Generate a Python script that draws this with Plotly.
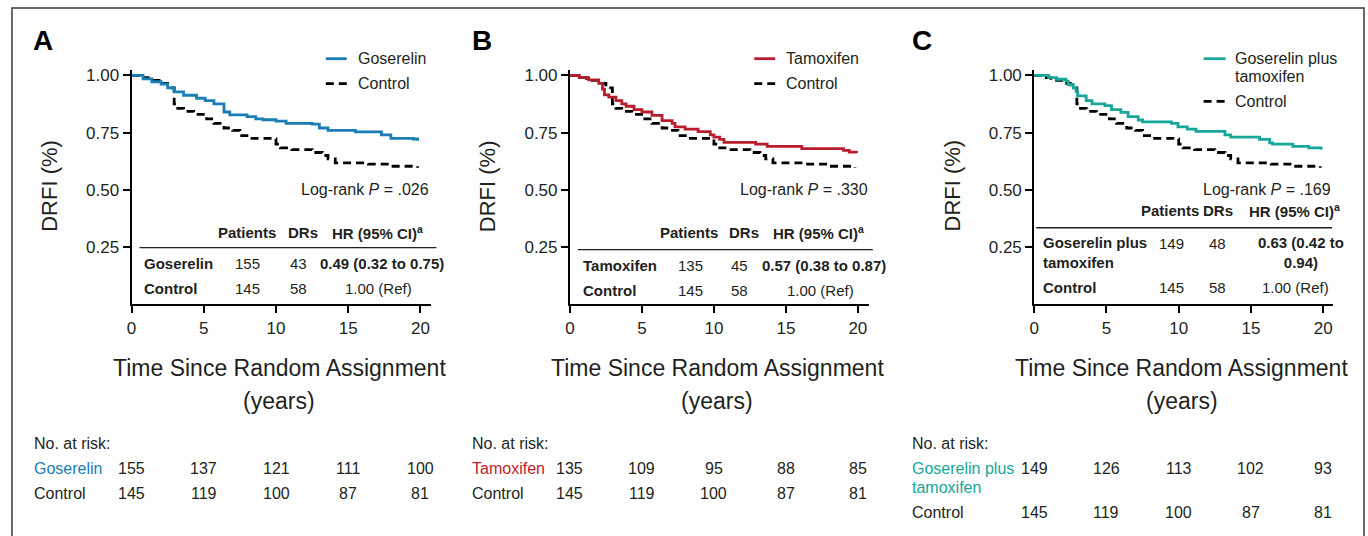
import plotly.graph_objects as go

W, H = 1368, 536
FONT = "Liberation Sans, Arial, sans-serif"

BLUE = "#1a7db6"
RED = "#b81d2d"
TEAL = "#17a69a"

# ---------------- data ----------------
ctrl_t = [0, 0.7, 1.15, 2.05, 2.5, 2.95, 3.2, 3.6, 4.3, 5.2, 5.7, 6.4, 7.0, 7.5, 8.2, 9.8, 10.0, 10.3, 11.1, 12.5, 13.2, 13.6, 14.1, 16.4, 17.95, 19.8]
ctrl_s = [1.0, 0.99, 0.978, 0.965, 0.945, 0.875, 0.856, 0.843, 0.83, 0.81, 0.79, 0.77, 0.76, 0.737, 0.725, 0.722, 0.70, 0.683, 0.676, 0.663, 0.65, 0.635, 0.618, 0.612, 0.603, 0.596]

gos_t = [0, 0.8, 1.4, 2.05, 2.5, 2.95, 3.6, 4.5, 5.1, 5.7, 6.4, 6.8, 8.0, 8.6, 9.1, 10.0, 10.7, 12.5, 13.0, 13.6, 15.5, 17.3, 17.95, 19.5, 19.8]
gos_s = [1.0, 0.985, 0.972, 0.962, 0.945, 0.928, 0.913, 0.90, 0.89, 0.875, 0.84, 0.827, 0.82, 0.81, 0.806, 0.80, 0.79, 0.787, 0.77, 0.76, 0.753, 0.74, 0.725, 0.722, 0.714]

tam_t = [0, 0.65, 1.3, 2.0, 2.26, 2.4, 2.7, 3.2, 3.6, 3.9, 4.45, 5.0, 5.7, 6.4, 7.1, 7.3, 8.0, 8.9, 9.75, 10.0, 10.4, 10.7, 12.9, 13.7, 16.1, 19.0, 19.4, 19.9]
tam_s = [1.0, 0.99, 0.98, 0.965, 0.94, 0.915, 0.905, 0.89, 0.875, 0.865, 0.85, 0.84, 0.825, 0.802, 0.79, 0.775, 0.765, 0.754, 0.74, 0.73, 0.72, 0.707, 0.70, 0.69, 0.68, 0.672, 0.665, 0.66]

gt_t = [0, 1.0, 1.55, 2.2, 2.35, 2.7, 2.9, 3.0, 3.6, 4.0, 4.9, 5.35, 6.0, 6.5, 7.2, 7.5, 9.5, 9.95, 10.6, 11.2, 13.2, 13.6, 15.6, 16.3, 16.5, 17.9, 19.0, 19.85]
gt_s = [1.0, 0.99, 0.983, 0.975, 0.96, 0.945, 0.93, 0.91, 0.89, 0.875, 0.868, 0.85, 0.838, 0.82, 0.805, 0.797, 0.79, 0.775, 0.765, 0.755, 0.74, 0.73, 0.72, 0.705, 0.70, 0.69, 0.683, 0.675]

x_ticks = [0, 5, 10, 15, 20]
y_ticks = [0.25, 0.50, 0.75, 1.00]
y_ticktext = ["0.25", "0.50", "0.75", "1.00"]

risk_gos = [155, 137, 121, 111, 100]
risk_tam = [135, 109, 95, 88, 85]
risk_gt = [149, 126, 113, 102, 93]
risk_ctrl = [145, 119, 100, 87, 81]

panel_letters = ["A", "B", "C"]
arm_names = ["Goserelin", "Tamoxifen", "Goserelin plus<br>tamoxifen"]
arm_colors = [BLUE, RED, TEAL]
logrank_p = [".026", ".330", ".169"]
patients = [155, 135, 149]
drs = [43, 45, 48]
hr_txt = ["0.49 (0.32 to 0.75)", "0.57 (0.38 to 0.87)", "0.63 (0.42 to<br>0.94)"]
ctrl_patients, ctrl_drs, ctrl_hr = 145, 58, "1.00 (Ref)"

# ---------------- layout helpers ----------------
def px(x):
    return x / W

def py(y):
    return 1 - y / H

DASH = "8px,5px"

# per-panel geometry (pixel positions)
axis_left = [127, 567, 1033]
axis_right = [428, 867, 1333]
px_per_year = [14.5, 14.45, 14.5]
y_top, y_bot = 67, 303

fig = go.Figure()

series = [(gos_t, gos_s), (tam_t, tam_s), (gt_t, gt_s)]
for i in range(3):
    xa = "x" if i == 0 else f"x{i+1}"
    ya = "y" if i == 0 else f"y{i+1}"
    t, s = series[i]
    fig.add_trace(go.Scatter(x=ctrl_t, y=ctrl_s, mode="lines", line_shape="hv",
                             line=dict(color="black", width=2.8, dash=DASH),
                             xaxis=xa, yaxis=ya, showlegend=False, hoverinfo="skip"))
    fig.add_trace(go.Scatter(x=t, y=s, mode="lines", line_shape="hv",
                             line=dict(color=arm_colors[i], width=2.8),
                             xaxis=xa, yaxis=ya, showlegend=False, hoverinfo="skip"))

layout = dict(
    width=W, height=H, margin=dict(l=0, r=0, t=0, b=0),
    paper_bgcolor="white", plot_bgcolor="white",
    font=dict(family=FONT, color="#231f20"),
    showlegend=False,
)
for i in range(3):
    xk = "xaxis" if i == 0 else f"xaxis{i+1}"
    yk = "yaxis" if i == 0 else f"yaxis{i+1}"
    xr = (axis_right[i] - axis_left[i]) / px_per_year[i]
    layout[xk] = dict(
        domain=[px(axis_left[i]), px(axis_right[i])], range=[0, xr],
        anchor="y" if i == 0 else f"y{i+1}",
        tickvals=x_ticks, ticks="outside", ticklen=7, tickwidth=1.5, tickcolor="black",
        showline=True, linecolor="black", linewidth=2, showgrid=False, zeroline=False,
        tickfont=dict(size=17, family=FONT, color="#231f20"), fixedrange=True,
    )
    layout[yk] = dict(
        domain=[py(y_bot), py(y_top)], range=[0, 1.025],
        anchor="x" if i == 0 else f"x{i+1}",
        tickvals=y_ticks, ticktext=y_ticktext, ticks="outside", ticklen=7, tickwidth=1.5,
        tickcolor="black", showline=True, linecolor="black", linewidth=2, showgrid=False,
        zeroline=False, tickfont=dict(size=17, family=FONT, color="#231f20"), fixedrange=True,
    )
fig.update_layout(**layout)

ann = []
shapes = []

def text(x, y, s, size=16, anchor="left", bold=False, color="#231f20", xref="paper", align="left", **kw):
    if bold:
        s = "<b>" + s.replace("<br>", "</b><br><b>") + "</b>"
    ann.append(dict(x=px(x) if xref == "paper" else x, y=py(y), xref=xref, yref="paper",
                    text=s, showarrow=False, xanchor=anchor, yanchor="middle", align=align,
                    font=dict(size=size, family=FONT, color=color), **kw))

# frame
shapes.append(dict(type="rect", xref="paper", yref="paper", x0=px(7), x1=px(1364), y0=-0.05, y1=py(5),
                   line=dict(color="#3a3a3a", width=1.5), fillcolor="rgba(0,0,0,0)"))

letter_x = [38, 479, 920]
legend_line_x = [(322, 343), (752, 773), (1203, 1225)]
legend_text_x = [352, 782, 1233]
ctrl_leg_y = [81, 81, 99]
logrank_right = [428, 868, 1333]

# tables (pixel positions)
tbl = [
    dict(hdr_y=231, line=(135, 433, 246), pat_x=212, drs_x=282, hr_x=326,
         r1_y=262, r2_y=287, name_x=138, n_x=229, d_x=305, hr1_x=314, hr2_x=339),
    dict(hdr_y=231, line=(575, 871, 248), pat_x=655, drs_x=725, hr_x=769,
         r1_y=264, r2_y=289, name_x=578, n_x=673, d_x=748, hr1_x=758, hr2_x=783),
    dict(hdr_y=209, line=(1035, 1332, 226), pat_x=1138, drs_x=1200, hr_x=1247,
         r1_y=251, r2_y=286, name_x=1040, n_x=1156, d_x=1227, hr1_x=1301, hr2_x=1295),
]

risk_left = [27, 467, 908]
risk_arm = [risk_gos, risk_tam, risk_gt]

for i in range(3):
    xa = "x" if i == 0 else f"x{i+1}"
    # panel letter
    text(letter_x[i], 38, panel_letters[i], size=28, anchor="center", bold=True, color="black")
    # y-axis title
    text(axis_left[i] - 82, 184, "DRFI (%)", size=22, anchor="center", textangle=-90)
    # x-axis title
    cx = (axis_left[i] + axis_right[i]) / 2 - 2
    text(cx, 367, "Time Since Random Assignment", size=23, anchor="center")
    text(cx, 400, "(years)", size=23, anchor="center")
    # legend
    x0, x1 = legend_line_x[i]
    shapes.append(dict(type="line", xref="paper", yref="paper", x0=px(x0), x1=px(x1), y0=py(56), y1=py(56),
                       line=dict(color=arm_colors[i], width=2.8)))
    shapes.append(dict(type="line", xref="paper", yref="paper", x0=px(x0), x1=px(x1),
                       y0=py(ctrl_leg_y[i]), y1=py(ctrl_leg_y[i]),
                       line=dict(color="black", width=2.8, dash=DASH)))
    if i == 2:
        text(legend_text_x[i], 56, "Goserelin plus", size=16)
        text(legend_text_x[i], 74, "tamoxifen", size=16)
    else:
        text(legend_text_x[i], 56, arm_names[i], size=16)
    text(legend_text_x[i], ctrl_leg_y[i], "Control", size=16)
    # log-rank
    text(logrank_right[i], 188, "Log-rank <i>P</i> = " + logrank_p[i], size=16, anchor="right")
    # HR table
    tb = tbl[i]
    text(tb["pat_x"], tb["hdr_y"], "Patients", size=15, bold=True)
    text(tb["drs_x"], tb["hdr_y"], "DRs", size=15, bold=True)
    text(tb["hr_x"], tb["hdr_y"], "<b>HR (95% CI)</b><sup><b>a</b></sup>", size=15)
    lx0, lx1, ly = tb["line"]
    shapes.append(dict(type="line", xref="paper", yref="paper", x0=px(lx0), x1=px(lx1), y0=py(ly), y1=py(ly),
                       line=dict(color="#231f20", width=1.3)))
    r1 = tb["r1_y"]
    if i == 2:
        text(tb["name_x"], r1, arm_names[i], size=15, bold=True)
        text(tb["n_x"], 242, str(patients[i]), size=15)
        text(tb["d_x"], 242, str(drs[i]), size=15, anchor="right")
        text(tb["hr1_x"], r1, hr_txt[i], size=15, bold=True, anchor="center", align="center")
        text(tb["hr2_x"], tb["r2_y"], ctrl_hr, size=15, anchor="center")
    else:
        text(tb["name_x"], r1, arm_names[i], size=15, bold=True)
        text(tb["n_x"], r1, str(patients[i]), size=15)
        text(tb["d_x"], r1, str(drs[i]), size=15, anchor="right")
        text(tb["hr1_x"], r1, hr_txt[i], size=15, bold=True)
        text(tb["hr2_x"], tb["r2_y"], ctrl_hr, size=15)
    text(tb["name_x"], tb["r2_y"], "Control", size=15, bold=True)
    text(tb["n_x"], tb["r2_y"], str(ctrl_patients), size=15)
    text(tb["d_x"], tb["r2_y"], str(ctrl_drs), size=15, anchor="right")

    # number at risk
    text(risk_left[i], 443, "No. at risk:", size=16)
    ctrl_row_y = 512 if i == 2 else 493
    if i == 2:
        text(risk_left[i], 468, "Goserelin plus", size=16, color=arm_colors[i])
        text(risk_left[i], 487, "tamoxifen", size=16, color=arm_colors[i])
    else:
        text(risk_left[i], 468, arm_names[i], size=16, color=arm_colors[i])
    text(risk_left[i], ctrl_row_y, "Control", size=16)
    for k, tv in enumerate(x_ticks):
        text(tv, 468, str(risk_arm[i][k]), size=16, anchor="center", xref=xa)
        text(tv, ctrl_row_y, str(risk_ctrl[k]), size=16, anchor="center", xref=xa)

fig.update_layout(annotations=ann, shapes=shapes)
fig.write_html("out.html", config={"displayModeBar": False},
               post_script="document.body.style.margin='0';document.body.style.overflow='hidden';")
